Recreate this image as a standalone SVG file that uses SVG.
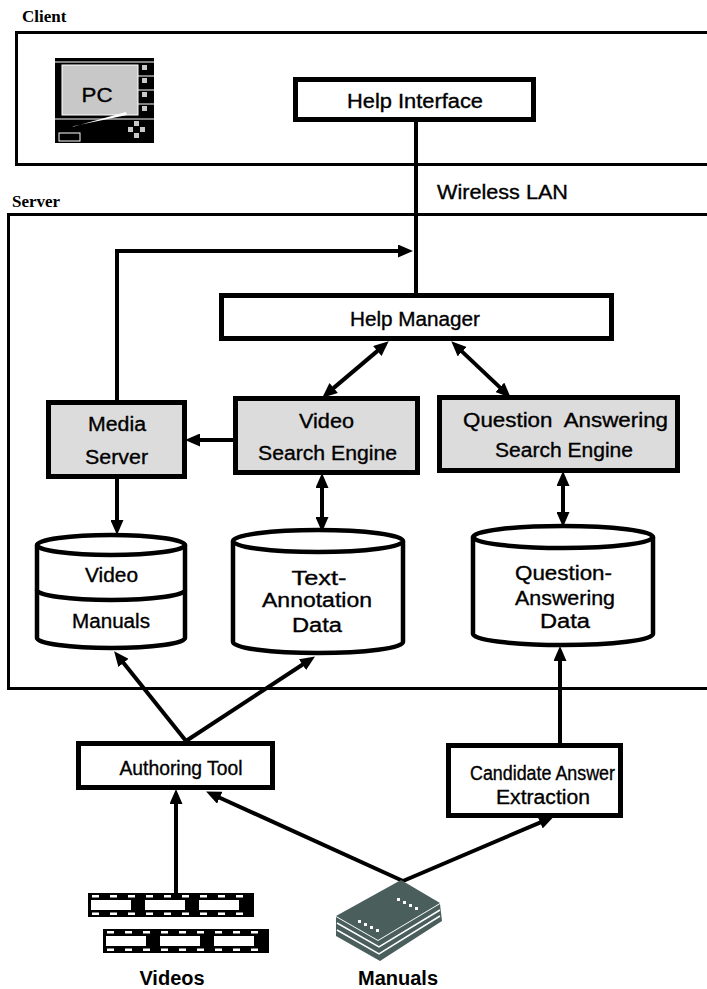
<svg xmlns="http://www.w3.org/2000/svg" width="707" height="989" viewBox="0 0 707 989">
  <style>
    .frame { fill: none; stroke: #000; stroke-width: 3; }
    .zone { font-family: "Liberation Serif", serif; font-weight: bold; font-size: 17px; fill: #000; }
    .box { fill: #fff; stroke: #000; stroke-width: 5; }
    .gbox { fill: #dcdcdc; stroke: #000; stroke-width: 5; }
    .db { fill: #fff; stroke: #000; stroke-width: 4.5; }
    .lbl { font-family: "Liberation Sans", Arial, sans-serif; font-size: 20px; fill: #000; stroke: #000; stroke-width: 0.35; text-anchor: middle; }
    .big { font-family: "Liberation Sans", Arial, sans-serif; font-size: 20px; font-weight: bold; fill: #000; text-anchor: middle; }
    .wire { fill: none; stroke: #000; stroke-width: 4; }
    .arr { marker-end: url(#head); }
    .both { marker-start: url(#head); marker-end: url(#head); }
  </style>
  <defs>
    <marker id="head" markerUnits="userSpaceOnUse" markerWidth="15" markerHeight="13" refX="3" refY="6.5" orient="auto-start-reverse">
      <path d="M0,0 L15,6.5 L0,13 z" fill="#000"/>
    </marker>
    <!-- one strip of film: three frames with sprocket holes -->
    <g id="film">
      <rect x="0" y="0" width="166" height="24" fill="#000"/>
      <rect x="3" y="7" width="40" height="10" fill="#fff"/>
      <rect x="57" y="7" width="40" height="10" fill="#fff"/>
      <rect x="111" y="7" width="40" height="10" fill="#fff"/>
      <g fill="#fff">
        <rect x="4" y="2" width="7" height="2.5"/><rect x="22" y="2" width="7" height="2.5"/><rect x="40" y="2" width="7" height="2.5"/>
        <rect x="58" y="2" width="7" height="2.5"/><rect x="76" y="2" width="7" height="2.5"/><rect x="94" y="2" width="7" height="2.5"/>
        <rect x="112" y="2" width="7" height="2.5"/><rect x="130" y="2" width="7" height="2.5"/><rect x="148" y="2" width="7" height="2.5"/>
        <rect x="4" y="19.5" width="7" height="2.5"/><rect x="22" y="19.5" width="7" height="2.5"/><rect x="40" y="19.5" width="7" height="2.5"/>
        <rect x="58" y="19.5" width="7" height="2.5"/><rect x="76" y="19.5" width="7" height="2.5"/><rect x="94" y="19.5" width="7" height="2.5"/>
        <rect x="112" y="19.5" width="7" height="2.5"/><rect x="130" y="19.5" width="7" height="2.5"/><rect x="148" y="19.5" width="7" height="2.5"/>
      </g>
    </g>
  </defs>

  <rect width="707" height="989" fill="#fff"/>

  <!-- tiers -->
  <g id="client-zone">
    <rect class="frame" x="16.5" y="32.5" width="700" height="132"/>
    <text class="zone" x="22" y="22">Client</text>
  </g>
  <g id="server-zone">
    <rect class="frame" x="8.5" y="214.5" width="710" height="474"/>
    <text class="zone" x="12" y="207">Server</text>
  </g>

  <!-- connectors -->
  <g id="connectors">
    <line class="wire" x1="416" y1="120" x2="416" y2="295"/>
    <path class="wire arr" d="M117,402 V251 H401"/>
    <line class="wire arr" x1="235" y1="440" x2="197" y2="440"/>
    <line class="wire both" x1="379.6" y1="349.1" x2="331.4" y2="389.9"/>
    <line class="wire both" x1="460" y1="349.6" x2="502" y2="389.4"/>
    <line class="wire both" x1="322" y1="485" x2="322" y2="520"/>
    <line class="wire both" x1="563" y1="483" x2="563" y2="515"/>
    <line class="wire arr" x1="117" y1="477" x2="117" y2="523"/>
    <line class="wire arr" x1="186" y1="741" x2="121.6" y2="660.6"/>
    <line class="wire arr" x1="186" y1="741" x2="305" y2="663"/>
    <line class="wire arr" x1="176" y1="893" x2="176" y2="801"/>
    <line class="wire arr" x1="403" y1="881" x2="217" y2="796.5"/>
    <line class="wire arr" x1="403" y1="881" x2="542.9" y2="821.3"/>
    <line class="wire arr" x1="560" y1="745" x2="560" y2="658"/>
  </g>

  <!-- PC terminal -->
  <g id="pc">
    <rect x="55" y="58" width="99" height="85" fill="#000"/>
    <line x1="55" y1="62" x2="154" y2="62" stroke="#fff" stroke-width="1"/>
    <rect x="62" y="65" width="76" height="50" fill="#c8c8c8" stroke="#fff" stroke-width="1"/>
    <g stroke="#fff" stroke-width="1">
      <line x1="138" y1="76" x2="154" y2="76"/>
      <line x1="138" y1="90" x2="154" y2="90"/>
      <line x1="138" y1="104" x2="154" y2="104"/>
      <line x1="55" y1="119" x2="154" y2="119"/>
    </g>
    <g fill="#c8c8c8">
      <rect x="142" y="65" width="5" height="5"/>
      <rect x="142" y="78" width="5" height="5"/>
      <rect x="142" y="92" width="5" height="5"/>
      <rect x="142" y="106" width="5" height="5"/>
    </g>
    <path d="M72,127 L126,112 L127,115 L74,126 z" fill="#fff"/>
    <rect x="59" y="133" width="21" height="8" fill="none" stroke="#fff" stroke-width="1"/>
    <g fill="#c8c8c8">
      <rect x="134" y="121" width="5" height="5"/>
      <rect x="128" y="127" width="5" height="5"/>
      <rect x="140" y="127" width="5" height="5"/>
      <rect x="134" y="133" width="5" height="5"/>
    </g>
    <text class="lbl" x="97" y="102" textLength="31" lengthAdjust="spacingAndGlyphs">PC</text>
  </g>

  <g id="help-interface">
    <rect class="box" x="295.5" y="79.5" width="238" height="40"/>
    <text class="lbl" x="415" y="108" textLength="136" lengthAdjust="spacingAndGlyphs">Help Interface</text>
  </g>

  <g id="wireless-lan">
    <text class="lbl" x="502.5" y="199" textLength="131" lengthAdjust="spacingAndGlyphs">Wireless LAN</text>
  </g>

  <g id="help-manager">
    <rect class="box" x="221.5" y="295.5" width="390" height="43"/>
    <text class="lbl" x="415" y="326" textLength="130" lengthAdjust="spacingAndGlyphs">Help Manager</text>
  </g>

  <g id="media-server">
    <rect class="gbox" x="48.5" y="402.5" width="136" height="74"/>
    <text class="lbl" x="117" y="431" textLength="58" lengthAdjust="spacingAndGlyphs">Media</text>
    <text class="lbl" x="116.5" y="464" textLength="63" lengthAdjust="spacingAndGlyphs">Server</text>
  </g>

  <g id="video-search-engine">
    <rect class="gbox" x="235.5" y="398.5" width="182" height="74"/>
    <text class="lbl" x="326.5" y="428" textLength="55" lengthAdjust="spacingAndGlyphs">Video</text>
    <text class="lbl" x="327.5" y="460" textLength="139" lengthAdjust="spacingAndGlyphs">Search Engine</text>
  </g>

  <g id="qa-search-engine">
    <rect class="gbox" x="439.5" y="397.5" width="238" height="73"/>
    <text class="lbl" x="565.5" y="427" textLength="205" lengthAdjust="spacingAndGlyphs" xml:space="preserve">Question  Answering</text>
    <text class="lbl" x="564" y="457" textLength="138" lengthAdjust="spacingAndGlyphs">Search Engine</text>
  </g>

  <g id="video-manuals-db">
    <path class="db" d="M37,545 V638 A74,10 0 0 0 185,638 V545"/>
    <ellipse class="db" cx="111" cy="545" rx="74" ry="10"/>
    <path class="db" fill="none" d="M37,590 A74,10 0 0 0 185,590"/>
    <text class="lbl" x="111.5" y="582" textLength="53" lengthAdjust="spacingAndGlyphs">Video</text>
    <text class="lbl" x="111" y="628" textLength="78" lengthAdjust="spacingAndGlyphs">Manuals</text>
  </g>

  <g id="text-annotation-db">
    <path class="db" d="M233,541 V642 A85,11 0 0 0 403,642 V541"/>
    <ellipse class="db" cx="318" cy="541" rx="85" ry="11"/>
    <text class="lbl" x="319" y="585" textLength="55" lengthAdjust="spacingAndGlyphs">Text-</text>
    <text class="lbl" x="317" y="607" textLength="110" lengthAdjust="spacingAndGlyphs">Annotation</text>
    <text class="lbl" x="317" y="632" textLength="50" lengthAdjust="spacingAndGlyphs">Data</text>
  </g>

  <g id="qa-data-db">
    <path class="db" d="M473,537 V634 A90,11 0 0 0 653,634 V537"/>
    <ellipse class="db" cx="563" cy="537" rx="90" ry="11"/>
    <text class="lbl" x="563.5" y="580" textLength="97" lengthAdjust="spacingAndGlyphs">Question-</text>
    <text class="lbl" x="565" y="605" textLength="100" lengthAdjust="spacingAndGlyphs">Answering</text>
    <text class="lbl" x="565" y="628" textLength="50" lengthAdjust="spacingAndGlyphs">Data</text>
  </g>

  <g id="authoring-tool">
    <rect class="box" x="78.5" y="743.5" width="194" height="44"/>
    <text class="lbl" x="181" y="775" textLength="123" lengthAdjust="spacingAndGlyphs">Authoring Tool</text>
  </g>

  <g id="candidate-answer-extraction">
    <rect class="box" x="448.5" y="745.5" width="172" height="70"/>
    <text class="lbl" x="542.5" y="780" textLength="145" lengthAdjust="spacingAndGlyphs">Candidate Answer</text>
    <text class="lbl" x="543" y="804" textLength="94" lengthAdjust="spacingAndGlyphs">Extraction</text>
  </g>

  <g id="videos">
    <use href="#film" x="88" y="893"/>
    <use href="#film" x="103" y="929"/>
    <text class="big" x="172" y="985">Videos</text>
  </g>

  <g id="manuals">
    <path d="M336,917 L378,941 L440,904 L442,921 L380,961 L336,936 z" fill="#4a5e5c"/>
    <g fill="none" stroke="#fff" stroke-width="1.5">
      <path d="M337,923 L379,947 L440,910"/>
      <path d="M337,930 L379,954 L440,916"/>
    </g>
    <path d="M401,880 L440,903 L378,940 L336,916 z" fill="#4a5e5c"/>
    <g fill="#fff">
      <rect x="397" y="898" width="3" height="3"/><rect x="403" y="901" width="3" height="3"/>
      <rect x="409" y="904" width="3" height="3"/><rect x="415" y="907" width="3" height="3"/>
      <rect x="358" y="920" width="3" height="3"/><rect x="364" y="923" width="3" height="3"/>
      <rect x="370" y="926" width="3" height="3"/><rect x="376" y="929" width="3" height="3"/>
    </g>
    <text class="big" x="398" y="985">Manuals</text>
  </g>
</svg>
